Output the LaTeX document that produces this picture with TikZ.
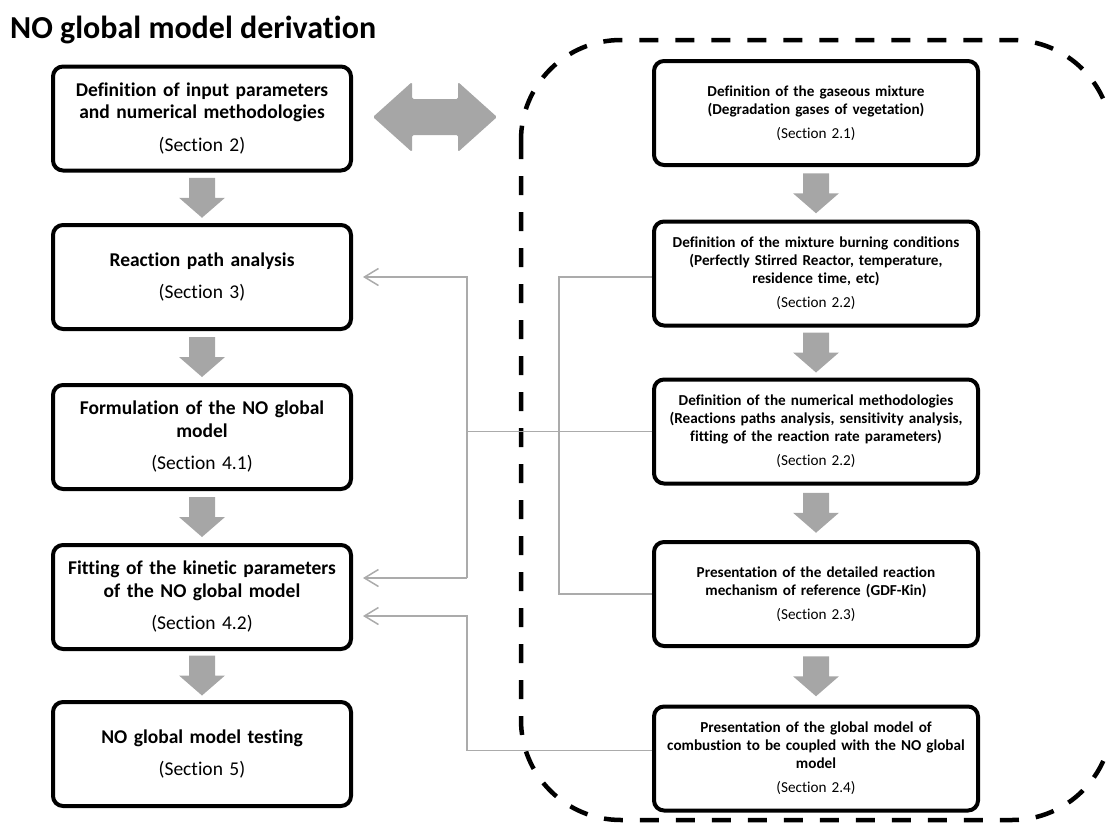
\documentclass[tikz,border=0pt]{standalone}
\usepackage{fontspec}
\setmainfont{Carlito}[Ligatures=NoCommon]
\usetikzlibrary{arrows.meta,calc}
\definecolor{arrgray}{HTML}{A6A6A6}
\definecolor{lngray}{HTML}{ABABAB}
\tikzset{
  lbox/.style={draw=black, line width=4pt, rounded corners=10pt, minimum width=298pt,
    minimum height=104pt, text width=294pt, align=center, inner sep=0pt,
    font=\fontsize{19.5}{22.5}\selectfont},
  rbox/.style={draw=black, line width=4pt, rounded corners=10pt, minimum width=324pt,
    minimum height=104pt, text width=322pt, align=center, inner sep=0pt,
    font=\fontsize{15.2}{18}\selectfont},
  conn/.style={draw=lngray, line width=1.5pt},
  barb/.style={-{Straight Barb[length=14pt,width=17pt]}},
  outline/.style={draw=black, line width=4.5pt, dash pattern=on 19pt off 17pt, rounded corners=100pt},
  downarr/.pic={\fill[arrgray] (-13,-20) -- (13,-20) -- (13,0) -- (23,0) -- (0,20) -- (-23,0) -- (-13,0) -- cycle;},
}
\begin{document}
\begin{tikzpicture}[x=1pt,y=-1pt]
\useasboundingbox (0,0) rectangle (1106,827);
\node[anchor=base west, inner sep=0pt, font=\fontsize{32}{38}\selectfont\bfseries] (title) at (10,38) {NO global model derivation};

% dashed outline
\draw[outline] (521,40) rectangle (1112,820);

% left column
\node[lbox] (L1) at (202,118.5) {{\bfseries Definition of input parameters\\and numerical methodologies}\\[10pt](Section 2)};
\node[lbox] (L2) at (202,277) {{\bfseries Reaction path analysis}\\[10pt](Section 3)};
\node[lbox] (L3) at (202,437) {{\bfseries Formulation of the NO global\\model}\\[10pt](Section 4.1)};
\node[lbox] (L4) at (202,597) {{\bfseries Fitting of the kinetic parameters\\of the NO global model}\\[10pt](Section 4.2)};
\node[lbox] (L5) at (202,754) {{\bfseries NO global model testing}\\[10pt](Section 5)};

% right column
\node[rbox] (R1) at (816,113) {{\bfseries Definition of the gaseous mixture\\(Degradation gases of vegetation)}\\[6pt](Section 2.1)};
\node[rbox] (R2) at (816,273.5) {{\bfseries Definition of the mixture burning conditions\\(Perfectly Stirred Reactor, temperature,\\residence time, etc)}\\[6pt](Section 2.2)};
\node[rbox] (R3) at (816,431.5) {{\bfseries Definition of the numerical methodologies\\(Reactions paths analysis, sensitivity analysis,\\fitting of the reaction rate parameters)}\\[6pt](Section 2.2)};
\node[rbox] (R4) at (816,594) {{\bfseries Presentation of the detailed reaction\\mechanism of reference (GDF-Kin)}\\[6pt](Section 2.3)};
\node[rbox] (R5) at (816,758.5) {{\bfseries Presentation of the global model of\\combustion to be coupled with the NO global\\model}\\[6pt](Section 2.4)};

% block arrows
\path ($(L1.south)!0.5!(L2.north)$) pic{downarr};
\path ($(L2.south)!0.5!(L3.north)$) pic{downarr};
\path ($(L3.south)!0.5!(L4.north)$) pic{downarr};
\path ($(L4.south)!0.5!(L5.north)$) pic{downarr};
\path ($(R1.south)!0.5!(R2.north)$) pic{downarr};
\path ($(R2.south)!0.5!(R3.north)$) pic{downarr};
\path ($(R3.south)!0.5!(R4.north)$) pic{downarr};
\path ($(R4.south)!0.5!(R5.north)$) pic{downarr};

\fill[arrgray, rounded corners=1.5pt] (373,117) -- (412,82) -- (412,99) -- (458,99) -- (458,82) -- (497,117) -- (458,152) -- (458,135) -- (412,135) -- (412,152) -- cycle;

% connectors
\coordinate (xl) at (467,0);
\coordinate (xr) at (559,0);
\coordinate (t2) at ($(L2.east)+(10,0)$);
\coordinate (t4a) at ($(L4.east)+(10,-19)$);
\coordinate (t4b) at ($(L4.east)+(10,19)$);
\coordinate (s5) at ($(R5.west)+(0,-8)$);

\draw[conn, barb] (xl |- t4a) -- (xl |- t2) -- (t2);
\draw[conn, barb] (xl |- t4a) -- (t4a);
\draw[conn, barb] (s5) -- (xl |- s5) -- (xl |- t4b) -- (t4b);
\draw[conn] (R3.west) -- (xl |- R3.west);
\draw[conn] (R2.west |- t2) -- (xr |- t2) -- (xr |- R4.west) -- (R4.west);
\end{tikzpicture}
\end{document}
